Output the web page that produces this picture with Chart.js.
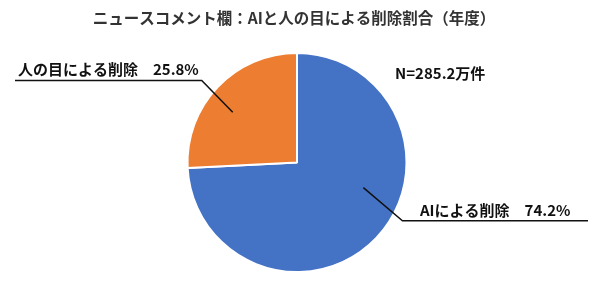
<!DOCTYPE html>
<html>
<head>
<meta charset="utf-8">
<script src="https://cdn.jsdelivr.net/npm/chart.js@4"></script>
<style>
  html, body { margin: 0; padding: 0; background: #fff; }
  #wrap { width: 600px; height: 290px; }
</style>
</head>
<body>
<div id="wrap"><canvas id="myChart"></canvas></div>
<script>
// データ
var titleText = "ニュースコメント欄：AIと人の目による削除割合（年度）";
var categories = ["AIによる削除", "人の目による削除"];
var shares = [74.2, 25.8];
var sliceColors = ["#4472C4", "#ED7D31"];
var noteText = "N=285.2万件";

var FONT = "'Noto Sans CJK JP', 'Noto Sans', sans-serif";

// 引き出し線の位置（半径に対する比率）
var leaders = [
  { start: [0.606, 0.23], elbow: [0.963, 0.532], endX: 588 },
  { start: [-0.587, -0.459], elbow: [-0.87, -0.75], endX: 15 }
];

var labelPlugin = {
  id: "pieLabels",
  afterDraw: function (chart) {
    var c = chart.ctx;
    var meta = chart.getDatasetMeta(0);
    var cx = meta.data[0].x, cy = meta.data[0].y, r = meta.data[0].outerRadius;
    c.save();
    // タイトル
    c.fillStyle = "#333";
    c.font = "bold 15.5px " + FONT;
    c.textAlign = "center";
    c.textBaseline = "middle";
    c.fillText(titleText, 294, 18);

    // N
    c.font = "bold 15px " + FONT;
    c.fillStyle = "#111";
    c.textAlign = "left";
    c.fillText(noteText, 395, 73);

    // ラベルと引き出し線
    for (var i = 0; i < categories.length; i++) {
      var L = leaders[i];
      var sx = cx + L.start[0] * r, sy = cy + L.start[1] * r;
      var ex = cx + L.elbow[0] * r, ey = cy + L.elbow[1] * r;
      c.strokeStyle = "#111";
      c.lineWidth = 1.5;
      c.beginPath();
      c.moveTo(sx, sy);
      c.lineTo(ex, ey);
      c.lineTo(L.endX, ey);
      c.stroke();
      var mid = (ex + L.endX) / 2;
      c.textAlign = "center";
      c.textBaseline = "alphabetic";
      c.fillText(categories[i] + "　" + shares[i].toFixed(1) + "%", mid, ey - 5);
    }
    c.restore();
  }
};

var ctx = document.getElementById("myChart");
var chart = new Chart(ctx, {
  type: "pie",
  data: {
    labels: categories,
    datasets: [
      {
        data: shares,
        backgroundColor: sliceColors,
        borderColor: "#ffffff",
        borderWidth: 2
      }
    ]
  },
  options: {
    responsive: true,
    maintainAspectRatio: false,
    animation: false,
    layout: { padding: { top: 52, bottom: 17, left: 0, right: 6 } },
    plugins: {
      legend: { display: false },
      tooltip: { enabled: false },
      title: { display: false }
    }
  },
  plugins: [labelPlugin]
});
</script>
</body>
</html>
